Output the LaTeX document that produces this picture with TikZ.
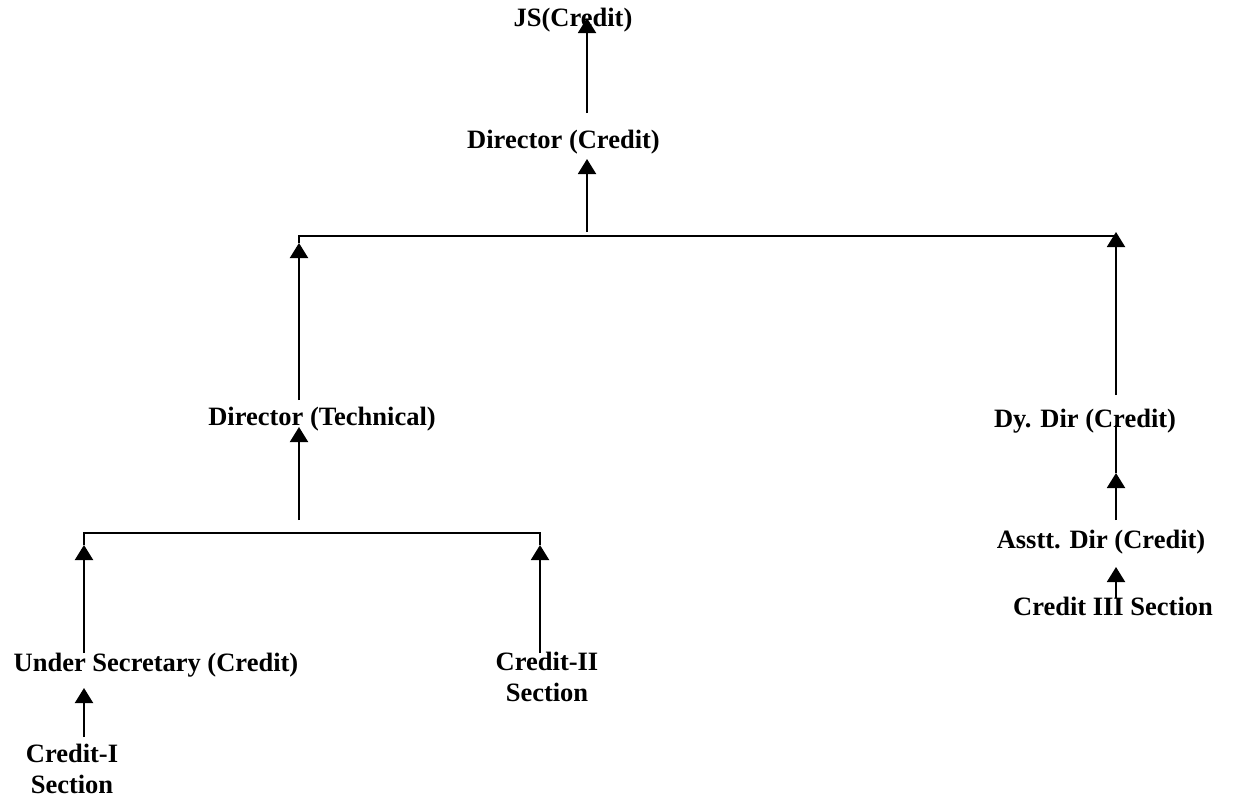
\documentclass[tikz,border=0pt]{standalone}
\usepackage{fontspec}
\setmainfont{Liberation Serif}
\usetikzlibrary{arrows.meta}
\begin{document}
\begin{tikzpicture}[x=1pt,y=-1pt,
  lbl/.style={font=\fontsize{26.5}{30.5}\selectfont\bfseries, inner sep=0pt, anchor=base, align=center},
  conn/.style={line width=2pt},
  arr/.style={conn, -{Triangle[width=18pt,length=15pt]}}]
\useasboundingbox (0,0) rectangle (1233,803);
% nodes
\node[lbl] (js) at (573,26) {JS(Credit)};
\node[lbl] (dirc) at (563.5,148) {Director (Credit)};
\node[lbl] (dirt) at (322,425) {Director (Technical)};
\node[lbl] (dydir) at (1085,427) {Dy. Dir (Credit)};
\node[lbl] (asst) at (1101,548) {Asstt. Dir (Credit)};
\node[lbl] (under) at (156,671) {Under Secretary (Credit)};
\node[lbl] (c2) at (547,701) {Credit-II\\Section};
\node[lbl] (c3) at (1113,615) {Credit III Section};
\node[lbl] (c1) at (72,793) {Credit-I\\Section};
% coordinates
\coordinate (t1) at (587,18);
\coordinate (s1) at (587,113);
\coordinate (t2) at (587,159);
\coordinate (s2) at (587,232);
\coordinate (tl) at (299,243);
\coordinate (sl) at (299,400);
\coordinate (tr) at (1116,232);
\coordinate (sr) at (1116,395);
\coordinate (t3) at (299,427);
\coordinate (s3) at (299,520);
\coordinate (tu) at (84,545);
\coordinate (su) at (84,653);
\coordinate (tc2) at (540,545);
\coordinate (sc2) at (540,653);
\coordinate (tc1) at (84,688);
\coordinate (sc1) at (84,737);
\coordinate (ta) at (1116,473);
\coordinate (sa) at (1116,520);
\coordinate (ea) at (1116,425);
\coordinate (tc3) at (1116,567);
\coordinate (sc3) at (1116,598);
% connectors
\draw[arr] (s1) -- (t1);
\draw[arr] (s2) -- (t2);
\draw[conn] (tl) -- (tl |- 0,236) -- (tr |- 0,236);
\draw[arr] (sl) -- (tl);
\draw[arr] (sr) -- (tr);
\draw[arr] (s3) -- (t3);
\draw[conn] (tu) -- (tu |- 0,533) -- (tc2 |- 0,533) -- (tc2);
\draw[arr] (su) -- (tu);
\draw[arr] (sc2) -- (tc2);
\draw[arr] (sc1) -- (tc1);
\draw[arr] (sa) -- (ta);
\draw[conn] (ta) -- (ea);
\draw[arr] (sc3) -- (tc3);
\end{tikzpicture}
\end{document}
